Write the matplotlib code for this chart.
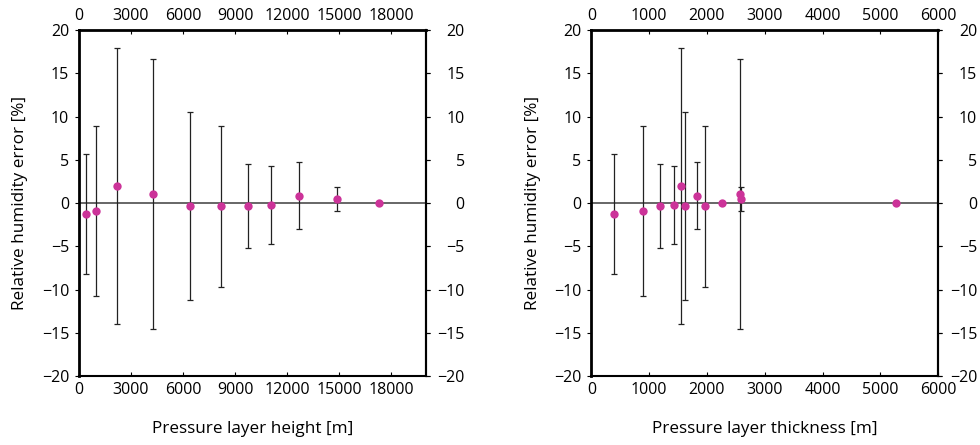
import matplotlib

matplotlib.use('Agg')
import matplotlib.pyplot as plt

plt.rcParams['font.family'] = ['Open Sans', 'DejaVu Sans']

# left panel: error vs layer height
height = [385, 1000, 2215, 4290, 6375, 8165, 9740, 11050, 12690, 14880, 17290]
height_err = [-1.24, -0.93, 1.97, 1.08, -0.35, -0.35, -0.35, -0.23, 0.85, 0.46, 0.0]
height_hi = [5.68, 8.88, 17.9, 16.7, 10.5, 8.96, 4.56, 4.32, 4.79, 1.89, 0.0]
height_lo = [-8.15, -10.73, -13.94, -14.6, -11.16, -9.65, -5.25, -4.75, -3.05, -0.93, 0.0]

# right panel: error vs layer thickness
thick = [387, 900, 1188, 1425, 1552, 1615, 1835, 1967, 2267, 2567, 2585, 5273]
thick_err = [-1.24, -0.93, -0.35, -0.23, 1.97, -0.35, 0.85, -0.35, 0.0, 1.08, 0.46, 0.0]
thick_hi = [5.68, 8.88, 4.56, 4.32, 17.9, 10.5, 4.79, 8.96, 0.0, 16.7, 1.89, 0.0]
thick_lo = [-8.15, -10.73, -5.25, -4.75, -13.94, -11.16, -3.05, -9.65, 0.0, -14.6, -0.93, 0.0]

height_ticks = [0, 3000, 6000, 9000, 12000, 15000, 18000]
thick_ticks = [0, 1000, 2000, 3000, 4000, 5000, 6000]
y_ticks = [-20, -15, -10, -5, 0, 5, 10, 15, 20]

TICK_FS = 11.5
LABEL_FS = 12.3


def panel(ax, x, y, hi, lo, xticks, xmax, xlabel):
    yerr = [[v - l for v, l in zip(y, lo)], [h - v for v, h in zip(y, hi)]]
    ax.axhline(0, color='#666666', lw=1.4, zorder=1)
    ax.errorbar(x, y, yerr=yerr, fmt='none', ecolor='#222222', elinewidth=0.9,
                capsize=2.2, capthick=0.9, zorder=2)
    ax.plot(x, y, 'o', color='#cc3399', ms=6, mec='none', zorder=3)
    ax.set_xlim(0, xmax)
    ax.set_ylim(-20, 20)
    ax.set_xticks(xticks)
    ax.set_yticks(y_ticks)
    ax.tick_params(direction='in', length=3, width=0.8, labelsize=TICK_FS, pad=4.5,
                   top=True, right=True, labeltop=True, labelright=False)
    ax.tick_params(axis='y', direction='out', pad=4)
    for side in ['left', 'top']:
        ax.spines[side].set_linewidth(2.0)
    for side in ['right', 'bottom']:
        ax.spines[side].set_linewidth(1.5)

    # right-hand labels, right aligned like the original
    sec = ax.secondary_yaxis('right')
    sec.set_yticks(y_ticks)
    sec.tick_params(direction='out', length=3, width=0.8, labelsize=TICK_FS, pad=25)
    sec.spines['right'].set_linewidth(1.5)
    for lbl in sec.get_yticklabels():
        lbl.set_horizontalalignment('right')

    ax.set_xlabel(xlabel, fontsize=LABEL_FS)
    ax.xaxis.set_label_coords(0.5, -0.13)
    ax.set_ylabel('Relative humidity error [%]', fontsize=LABEL_FS)
    ax.yaxis.set_label_coords(-0.146, 0.5)


fig = plt.figure(figsize=(9.8, 4.45), dpi=100)
ax1 = fig.add_axes([0.0806, 0.155, 0.354, 0.7775])
ax2 = fig.add_axes([0.6034, 0.155, 0.354, 0.7775])

panel(ax1, height, height_err, height_hi, height_lo, height_ticks, 20000,
      'Pressure layer height [m]')
panel(ax2, thick, thick_err, thick_hi, thick_lo, thick_ticks, 6000,
      'Pressure layer thickness [m]')

fig.savefig('out.png', dpi=100)
plt.close(fig)
